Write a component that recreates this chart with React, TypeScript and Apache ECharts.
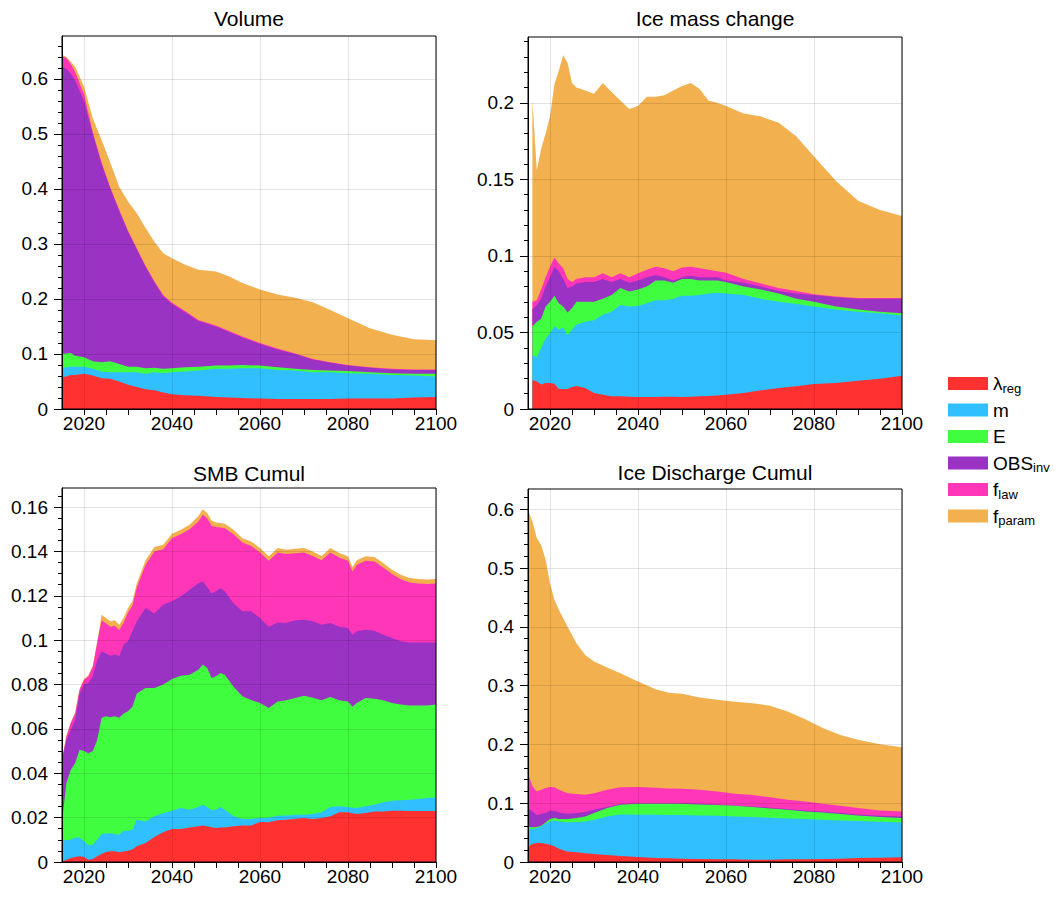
import React, { useEffect, useRef } from "react";
import * as echarts from "echarts";

const FONT = "'Liberation Sans', Arial, Helvetica, sans-serif";

// Layer names (bottom to top) and colours
const LAYER_NAMES = ["λreg", "m", "E", "OBSinv", "flaw", "fparam"];
const LAYER_COLORS = ["#ff3131", "#30bfff", "#40fd40", "#9a32c4", "#ff36b8", "#f2b04f"];
const LEGEND_LABELS: Record<string, string> = {
  "λreg": "{m|λ}{s|reg}",
  m: "{m|m}{s| }",
  E: "{m|E}{s| }",
  OBSinv: "{m|OBS}{s|inv}",
  flaw: "{m|f}{s|law}",
  fparam: "{m|f}{s|param}",
};

// X axis ticks
const xLabelYears = [2020, 2040, 2060, 2080, 2100];
const xTickYears = [2020, 2025, 2030, 2035, 2040, 2045, 2050, 2055, 2060, 2065, 2070, 2075, 2080, 2085, 2090, 2095, 2100];

// ---------- Volume (cumulative top of each stacked layer) ----------
const volumeYears = [2015, 2016, 2017, 2018, 2020, 2022, 2024, 2026, 2028, 2030, 2032, 2034, 2036, 2038, 2040, 2043, 2046, 2050, 2053, 2056, 2060, 2064, 2068, 2072, 2076, 2080, 2085, 2090, 2095, 2100];
const volumeLambda = [0.058, 0.059, 0.062, 0.062, 0.064, 0.061, 0.056, 0.055, 0.05, 0.044, 0.04, 0.036, 0.034, 0.03, 0.027, 0.025, 0.024, 0.022, 0.021, 0.02, 0.019, 0.018, 0.018, 0.018, 0.018, 0.019, 0.019, 0.019, 0.021, 0.022];
const volumeM = [0.074, 0.076, 0.077, 0.077, 0.077, 0.073, 0.068, 0.067, 0.067, 0.067, 0.067, 0.064, 0.067, 0.065, 0.067, 0.068, 0.07, 0.073, 0.073, 0.074, 0.074, 0.071, 0.07, 0.067, 0.067, 0.065, 0.064, 0.062, 0.061, 0.059];
const volumeE = [0.1, 0.101, 0.102, 0.097, 0.094, 0.087, 0.085, 0.087, 0.082, 0.077, 0.077, 0.074, 0.075, 0.073, 0.074, 0.076, 0.077, 0.079, 0.079, 0.08, 0.079, 0.076, 0.073, 0.071, 0.07, 0.069, 0.067, 0.065, 0.064, 0.064];
const volumeObs = [0.622, 0.618, 0.61, 0.597, 0.56, 0.5, 0.445, 0.4, 0.36, 0.322, 0.29, 0.258, 0.23, 0.205, 0.191, 0.176, 0.16, 0.15, 0.14, 0.13, 0.118, 0.108, 0.1, 0.09, 0.084, 0.079, 0.075, 0.072, 0.071, 0.071];
const volumeFlaw = [0.641, 0.638, 0.627, 0.612, 0.572, 0.503, 0.448, 0.402, 0.362, 0.324, 0.292, 0.26, 0.232, 0.207, 0.193, 0.178, 0.162, 0.152, 0.142, 0.132, 0.12, 0.11, 0.101, 0.091, 0.085, 0.08, 0.076, 0.073, 0.072, 0.072];
const volumeFparam = [0.644, 0.64, 0.631, 0.622, 0.586, 0.528, 0.489, 0.447, 0.404, 0.377, 0.356, 0.329, 0.304, 0.283, 0.274, 0.262, 0.253, 0.25, 0.241, 0.229, 0.217, 0.208, 0.202, 0.194, 0.18, 0.165, 0.147, 0.135, 0.127, 0.125];

// ---------- Ice mass change ----------
const massYears = [2016, 2017, 2018, 2019, 2020, 2021, 2022, 2023, 2024, 2025, 2026, 2028, 2030, 2032, 2034, 2036, 2038, 2040, 2042, 2044, 2046, 2048, 2050, 2052, 2054, 2056, 2058, 2060, 2064, 2068, 2072, 2076, 2080, 2085, 2090, 2095, 2100];
const massLambda = [0.019, 0.018, 0.016, 0.017, 0.017, 0.0165, 0.013, 0.013, 0.013, 0.0143, 0.015, 0.0137, 0.0104, 0.0093, 0.0083, 0.0083, 0.008, 0.0078, 0.0078, 0.0078, 0.008, 0.008, 0.0078, 0.008, 0.0083, 0.0085, 0.0089, 0.0093, 0.0104, 0.0122, 0.0137, 0.0148, 0.0163, 0.017, 0.0185, 0.0198, 0.0217];
const massM = [0.035, 0.034, 0.04, 0.046, 0.0495, 0.054, 0.052, 0.053, 0.048, 0.052, 0.055, 0.057, 0.058, 0.0615, 0.0636, 0.068, 0.067, 0.0673, 0.069, 0.071, 0.071, 0.072, 0.074, 0.074, 0.0745, 0.0755, 0.076, 0.0755, 0.0745, 0.072, 0.07, 0.0686, 0.067, 0.065, 0.0636, 0.0625, 0.061];
const massE = [0.054, 0.057, 0.059, 0.067, 0.07, 0.074, 0.069, 0.067, 0.063, 0.066, 0.07, 0.07, 0.07, 0.072, 0.0745, 0.079, 0.0767, 0.078, 0.08, 0.084, 0.084, 0.0825, 0.085, 0.085, 0.084, 0.084, 0.084, 0.083, 0.08, 0.078, 0.0755, 0.072, 0.07, 0.067, 0.065, 0.0636, 0.0625];
const massObs = [0.065, 0.068, 0.072, 0.08, 0.086, 0.093, 0.09, 0.085, 0.079, 0.08, 0.082, 0.083, 0.083, 0.085, 0.083, 0.085, 0.0825, 0.084, 0.086, 0.0875, 0.086, 0.084, 0.086, 0.087, 0.086, 0.086, 0.086, 0.084, 0.0825, 0.08, 0.077, 0.0755, 0.0745, 0.073, 0.072, 0.072, 0.072];
const massFlaw = [0.07, 0.071, 0.078, 0.086, 0.093, 0.099, 0.095, 0.092, 0.085, 0.083, 0.085, 0.086, 0.086, 0.0886, 0.086, 0.0886, 0.086, 0.0886, 0.091, 0.093, 0.092, 0.09, 0.0925, 0.093, 0.092, 0.091, 0.09, 0.089, 0.085, 0.082, 0.079, 0.077, 0.075, 0.0735, 0.0725, 0.0725, 0.0725];
const massFparam = [0.2015, 0.156, 0.17, 0.18, 0.191, 0.212, 0.221, 0.231, 0.226, 0.213, 0.21, 0.208, 0.206, 0.213, 0.207, 0.2015, 0.196, 0.198, 0.204, 0.204, 0.205, 0.208, 0.211, 0.213, 0.209, 0.2015, 0.2, 0.198, 0.193, 0.191, 0.187, 0.178, 0.165, 0.149, 0.136, 0.13, 0.126];

// ---------- SMB Cumul ----------
const smbYears = [2015, 2016, 2017, 2018, 2019, 2020, 2021, 2022, 2023, 2024, 2025, 2026, 2027, 2028, 2029, 2030, 2031, 2032, 2034, 2036, 2038, 2040, 2042, 2044, 2046, 2047, 2048, 2049, 2050, 2051, 2052, 2054, 2056, 2058, 2060, 2062, 2064, 2066, 2068, 2070, 2072, 2074, 2076, 2078, 2080, 2081, 2082, 2084, 2086, 2088, 2090, 2092, 2094, 2096, 2098, 2100];
const smbLambda = [0, 0.001, 0.0018, 0.0023, 0.0026, 0.0023, 0.001, 0.0014, 0.0026, 0.0036, 0.0045, 0.0048, 0.0048, 0.0044, 0.0047, 0.0051, 0.0056, 0.0071, 0.0086, 0.0113, 0.0134, 0.0149, 0.0149, 0.0156, 0.0161, 0.0165, 0.0161, 0.0157, 0.0153, 0.0155, 0.0156, 0.0161, 0.0164, 0.0165, 0.018, 0.0179, 0.0188, 0.0191, 0.0195, 0.0198, 0.0194, 0.0198, 0.0206, 0.0224, 0.0224, 0.022, 0.0216, 0.0221, 0.0228, 0.0228, 0.0231, 0.0231, 0.023, 0.023, 0.023, 0.023];
const smbM = [0.01, 0.0098, 0.01, 0.011, 0.0111, 0.0093, 0.0075, 0.0078, 0.01, 0.0126, 0.0128, 0.013, 0.0126, 0.0123, 0.0141, 0.0141, 0.0146, 0.019, 0.0183, 0.0206, 0.022, 0.0231, 0.0243, 0.0236, 0.0248, 0.0258, 0.0248, 0.0233, 0.0236, 0.0248, 0.0236, 0.0206, 0.0194, 0.0194, 0.0198, 0.02, 0.0209, 0.021, 0.0213, 0.0213, 0.0216, 0.0224, 0.0248, 0.0251, 0.0248, 0.0245, 0.0243, 0.0251, 0.0258, 0.0269, 0.0276, 0.0278, 0.0281, 0.0284, 0.0288, 0.0291];
const smbE = [0.018, 0.0356, 0.0416, 0.0446, 0.0506, 0.05, 0.049, 0.05, 0.055, 0.065, 0.0657, 0.0652, 0.0657, 0.065, 0.067, 0.068, 0.07, 0.076, 0.0784, 0.0784, 0.08, 0.0825, 0.084, 0.0844, 0.0867, 0.089, 0.0874, 0.083, 0.0837, 0.0852, 0.0844, 0.079, 0.0747, 0.073, 0.0717, 0.0694, 0.0724, 0.0729, 0.0739, 0.075, 0.074, 0.0729, 0.0744, 0.0729, 0.0724, 0.07, 0.0717, 0.0739, 0.0736, 0.0729, 0.0717, 0.071, 0.0705, 0.0705, 0.0706, 0.071];
const smbObs = [0.046, 0.055, 0.0596, 0.064, 0.076, 0.08, 0.0807, 0.0837, 0.091, 0.095, 0.094, 0.093, 0.0935, 0.0927, 0.098, 0.0995, 0.104, 0.1085, 0.1145, 0.112, 0.116, 0.1175, 0.1197, 0.1227, 0.1257, 0.1265, 0.124, 0.121, 0.122, 0.1235, 0.122, 0.1167, 0.113, 0.113, 0.11, 0.106, 0.108, 0.1077, 0.109, 0.1092, 0.1085, 0.107, 0.1077, 0.106, 0.1055, 0.1025, 0.104, 0.1047, 0.1043, 0.1025, 0.101, 0.0995, 0.099, 0.099, 0.099, 0.099];
const smbFlaw = [0.046, 0.0566, 0.0627, 0.067, 0.0777, 0.082, 0.0837, 0.088, 0.0987, 0.109, 0.1075, 0.106, 0.1065, 0.1045, 0.1078, 0.1125, 0.1155, 0.1237, 0.134, 0.14, 0.141, 0.146, 0.1478, 0.15, 0.1535, 0.1565, 0.155, 0.1515, 0.151, 0.1508, 0.1505, 0.1478, 0.144, 0.1425, 0.1395, 0.1358, 0.1395, 0.1388, 0.1392, 0.1395, 0.138, 0.136, 0.1395, 0.1373, 0.1358, 0.131, 0.134, 0.1358, 0.1355, 0.1328, 0.1298, 0.1275, 0.126, 0.1256, 0.1253, 0.1256];
const smbFparam = [0.046, 0.057, 0.063, 0.0675, 0.078, 0.0825, 0.0842, 0.0885, 0.0993, 0.1115, 0.11, 0.1085, 0.109, 0.107, 0.11, 0.1145, 0.1175, 0.1257, 0.136, 0.142, 0.143, 0.148, 0.1498, 0.152, 0.156, 0.159, 0.1573, 0.154, 0.153, 0.1528, 0.1525, 0.1498, 0.146, 0.1445, 0.1415, 0.1378, 0.1415, 0.1408, 0.1412, 0.1415, 0.14, 0.138, 0.1415, 0.1393, 0.1378, 0.133, 0.136, 0.1378, 0.1375, 0.1348, 0.1318, 0.1295, 0.128, 0.1276, 0.1273, 0.1276];

// ---------- Ice Discharge Cumul ----------
const dischargeYears = [2015, 2016, 2017, 2018, 2019, 2020, 2021, 2022, 2024, 2026, 2028, 2030, 2033, 2036, 2040, 2044, 2047, 2050, 2054, 2058, 2062, 2066, 2070, 2074, 2078, 2082, 2086, 2090, 2095, 2100];
const dischargeLambda = [0.0255, 0.031, 0.0323, 0.0323, 0.031, 0.0295, 0.0266, 0.0227, 0.018, 0.0164, 0.0147, 0.0136, 0.0119, 0.0102, 0.0085, 0.0068, 0.0062, 0.0057, 0.0051, 0.0045, 0.0045, 0.004, 0.004, 0.0045, 0.0045, 0.0051, 0.0057, 0.0068, 0.0074, 0.0079];
const dischargeM = [0.056, 0.056, 0.0578, 0.0606, 0.065, 0.069, 0.0708, 0.069, 0.0674, 0.068, 0.069, 0.072, 0.0776, 0.081, 0.0805, 0.0805, 0.08, 0.08, 0.0793, 0.0788, 0.0776, 0.0765, 0.0754, 0.0742, 0.073, 0.072, 0.0708, 0.0697, 0.0686, 0.0674];
const dischargeE = [0.0595, 0.059, 0.0595, 0.0618, 0.0674, 0.073, 0.0748, 0.073, 0.073, 0.0748, 0.0776, 0.0833, 0.0918, 0.0975, 0.099, 0.099, 0.099, 0.099, 0.098, 0.0969, 0.0958, 0.0935, 0.0912, 0.089, 0.086, 0.0844, 0.0816, 0.0793, 0.0765, 0.0748];
const dischargeObs = [0.092, 0.086, 0.08, 0.0816, 0.0833, 0.087, 0.087, 0.0844, 0.082, 0.0833, 0.085, 0.089, 0.0935, 0.0986, 0.1, 0.1, 0.1, 0.1, 0.099, 0.098, 0.0963, 0.0946, 0.0924, 0.09, 0.0878, 0.086, 0.0833, 0.081, 0.0788, 0.0776];
const dischargeFlaw = [0.151, 0.129, 0.12, 0.123, 0.126, 0.1275, 0.127, 0.123, 0.117, 0.1156, 0.1145, 0.117, 0.123, 0.127, 0.1275, 0.1263, 0.125, 0.1246, 0.123, 0.12, 0.116, 0.114, 0.11, 0.106, 0.103, 0.099, 0.0958, 0.0918, 0.0878, 0.086];
const dischargeFparam = [0.599, 0.579, 0.551, 0.539, 0.514, 0.474, 0.446, 0.429, 0.4, 0.372, 0.352, 0.341, 0.331, 0.321, 0.307, 0.294, 0.288, 0.286, 0.28, 0.276, 0.2725, 0.27, 0.266, 0.256, 0.243, 0.228, 0.216, 0.208, 0.2005, 0.195];

// Y axis ticks
const volumeMajor = [0, 0.1, 0.2, 0.3, 0.4, 0.5, 0.6];
const massMajor = [0, 0.05, 0.1, 0.15, 0.2];
const smbMajor = [0, 0.02, 0.04, 0.06, 0.08, 0.1, 0.12, 0.14, 0.16];
const dischargeMajor = [0, 0.1, 0.2, 0.3, 0.4, 0.5, 0.6];

function minorTicks(step: number, max: number): number[] {
  const out: number[] = [];
  for (let k = 1; k * step <= max + 1e-9; k++) out.push(+(k * step).toFixed(4));
  return out;
}

const PANELS = [
  { title: "Volume", years: volumeYears, layers: [volumeLambda, volumeM, volumeE, volumeObs, volumeFlaw, volumeFparam], yMax: 0.678, major: volumeMajor, minorStep: 0.02 },
  { title: "Ice mass change", years: massYears, layers: [massLambda, massM, massE, massObs, massFlaw, massFparam], yMax: 0.243, major: massMajor, minorStep: 0.01 },
  { title: "SMB Cumul", years: smbYears, layers: [smbLambda, smbM, smbE, smbObs, smbFlaw, smbFparam], yMax: 0.1686, major: smbMajor, minorStep: 0.005 },
  { title: "Ice Discharge Cumul", years: dischargeYears, layers: [dischargeLambda, dischargeM, dischargeE, dischargeObs, dischargeFlaw, dischargeFparam], yMax: 0.6345, major: dischargeMajor, minorStep: 0.02 },
];

const GRIDS = [
  { left: 62, top: 36, width: 374, height: 373 },
  { left: 528, top: 37, width: 374, height: 372 },
  { left: 62, top: 488, width: 374, height: 374 },
  { left: 528, top: 489, width: 374, height: 373 },
];
const TITLE_Y = [18, 18, 473, 472];

function buildOption() {
  const black = "#000";
  const gridLine = { color: "rgba(0,0,0,0.11)", width: 1 };
  const xAxis: any[] = [];
  const yAxis: any[] = [];
  const series: any[] = [];
  const graphic: any[] = [];

  PANELS.forEach((p, i) => {
    xAxis.push({
      gridIndex: i, type: "value", min: 2015, max: 2100, position: "bottom", z: 6,
      axisLine: { show: true, onZero: false, lineStyle: { color: black, width: 1 } },
      axisTick: { show: true, customValues: xTickYears, length: 6, lineStyle: { color: black, width: 1 } },
      axisLabel: {
        show: true, customValues: xLabelYears, fontSize: 19, color: black, fontFamily: FONT, margin: 5,
        formatter: (v: number) => String(Math.round(v)),
      },
      splitLine: { show: false },
    });
    xAxis.push({
      gridIndex: i, type: "value", min: 2015, max: 2100, position: "bottom", z: 6,
      axisLine: { show: false },
      axisTick: { show: false, customValues: xLabelYears },
      axisLabel: { show: false },
      splitLine: { show: true, lineStyle: gridLine },
    });
    yAxis.push({
      gridIndex: i, type: "value", min: 0, max: p.yMax, position: "left", z: 6,
      axisLine: { show: true, onZero: false, lineStyle: { color: black, width: 1 } },
      axisTick: { show: true, customValues: p.major, length: 8, lineStyle: { color: black, width: 1 } },
      axisLabel: {
        show: true, customValues: p.major, fontSize: 19, color: black, fontFamily: FONT, margin: 14,
        formatter: (v: number) => String(parseFloat(Number(v).toFixed(3))),
      },
      splitLine: { show: true, lineStyle: gridLine },
    });
    yAxis.push({
      gridIndex: i, type: "value", min: 0, max: p.yMax, position: "left", z: 6,
      axisLine: { show: false },
      axisTick: { show: true, customValues: minorTicks(p.minorStep, p.yMax), length: 4, lineStyle: { color: black, width: 1 } },
      axisLabel: { show: false },
      splitLine: { show: false },
    });
    for (let k = LAYER_NAMES.length - 1; k >= 0; k--) {
      series.push({
        name: LAYER_NAMES[k], type: "line", xAxisIndex: 2 * i, yAxisIndex: 2 * i,
        data: p.years.map((y, j) => [y, p.layers[k][j]]),
        symbol: "none", showSymbol: false, silent: true,
        lineStyle: { width: 0, color: LAYER_COLORS[k] },
        itemStyle: { color: LAYER_COLORS[k] },
        areaStyle: { color: LAYER_COLORS[k], opacity: 1 },
        emphasis: { disabled: true },
        z: 2,
      });
    }
    const g = GRIDS[i];
    graphic.push({
      type: "text", x: g.left + g.width / 2, y: TITLE_Y[i], z: 10,
      style: { text: p.title, fontSize: 21, fontFamily: FONT, fill: black, textAlign: "center", textVerticalAlign: "middle" },
    });
  });

  return {
    animation: false,
    backgroundColor: "#fff",
    grid: GRIDS.map((g) => ({ ...g, show: true, borderColor: "#000", borderWidth: 1, backgroundColor: "transparent", z: 7 })),
    xAxis, yAxis, series, graphic,
    legend: {
      orient: "vertical", left: 943, top: 369, itemWidth: 40, itemHeight: 13, itemGap: 6,
      icon: "rect", selectedMode: false, data: LAYER_NAMES,
      formatter: (name: string) => LEGEND_LABELS[name],
      textStyle: {
        fontSize: 18, color: "#000", fontFamily: FONT,
        rich: {
          m: { fontSize: 19, lineHeight: 22, fontFamily: FONT, color: "#000" },
          s: { fontSize: 13, lineHeight: 14, verticalAlign: "bottom", fontFamily: FONT, color: "#000" },
        },
      },
    },
  };
}

export default function App() {
  const ref = useRef<HTMLDivElement>(null);
  useEffect(() => {
    if (!ref.current) return;
    const chart = echarts.init(ref.current, null, { renderer: "svg" });
    chart.setOption(buildOption() as any);
    return () => chart.dispose();
  }, []);
  return <div ref={ref} style={{ position: "absolute", left: 0, top: 0, width: 1054, height: 897 }} />;
}
